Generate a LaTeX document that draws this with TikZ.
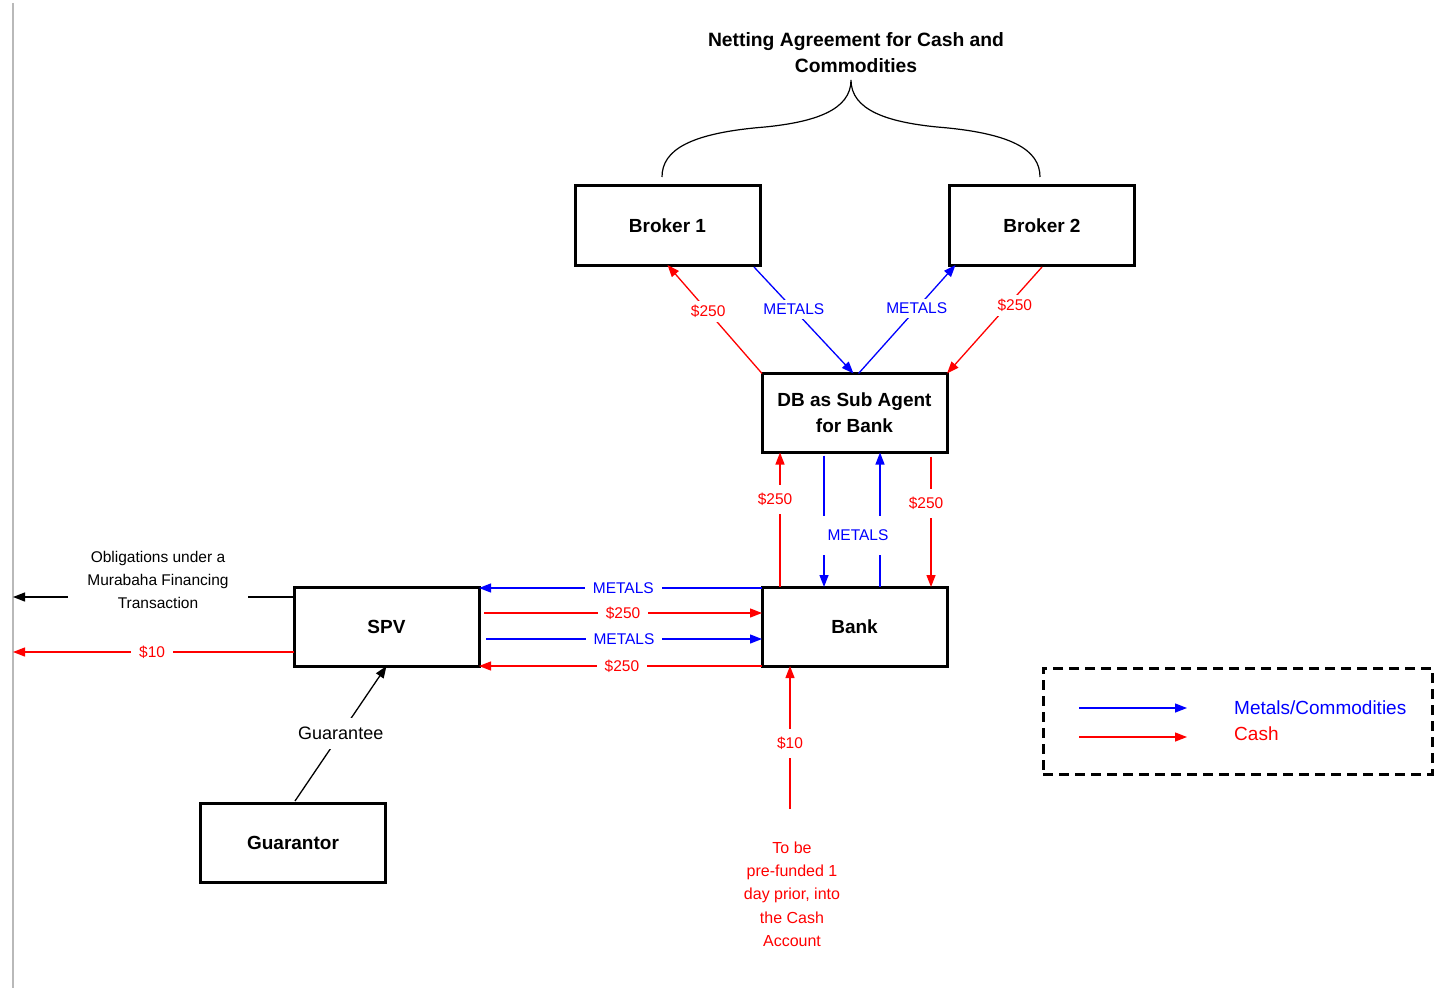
\documentclass[tikz,border=0pt]{standalone}
\usepackage{fontspec}
\setmainfont{Liberation Sans}
\usetikzlibrary{arrows.meta}
\definecolor{cashred}{RGB}{255,0,0}
\definecolor{metalblue}{RGB}{0,0,255}
\begin{document}
\begin{tikzpicture}[x=1pt,y=-1pt,
  party/.style={draw, line width=3pt, minimum width=185pt, minimum height=79pt,
    outer sep=0pt, inner sep=0pt, align=center,
    font=\fontsize{19}{26}\selectfont\bfseries},
  flow/.style={line width=1.3pt, -{Triangle[length=12pt,width=9pt]}},
  cash/.style={flow, color=cashred},
  metal/.style={flow, color=metalblue},
  lbl/.style={fill=white, inner xsep=8pt, inner ysep=4pt,
    font=\fontsize{15.5}{18}\selectfont},
  vlbl/.style={lbl, inner ysep=8pt},
  note/.style={align=center, inner sep=0pt}]
\useasboundingbox (0,0) rectangle (1439,992);

% left margin rule
\coordinate (ruletop) at (13,3);
\coordinate (rulebot) at (13,988);
\draw[gray!55, line width=1.5pt] (ruletop) -- (rulebot);

% parties
\node[party] (broker1) at (667.5,225.5) {Broker 1};
\node[party] (broker2) at (1042,225.5) {Broker 2};
\node[party] (db) at (854.5,413) {DB as Sub Agent\\for Bank};
\node[party] (bank) at (854.5,626.5) {Bank};
\node[party] (spv) at (386.5,626.5) {SPV};
\node[party] (guarantor) at (293,842.5) {Guarantor};

% netting agreement heading and brace
\node[note, font=\fontsize{19.3}{26}\selectfont\bfseries] (netting) at (856,53)
  {Netting Agreement for Cash and\\Commodities};
\coordinate (braceL) at (662,177);
\coordinate (braceTip) at (851,80);
\coordinate (braceR) at (1040,177);
\draw[line width=1.2pt] (braceL) .. controls (662,150) and (690,133) .. (765,127)
  .. controls (815,122) and (851,110) .. (braceTip)
  .. controls (851,110) and (887,122) .. (937,127)
  .. controls (1012,133) and (1040,150) .. (braceR);

% brokers <-> DB
\draw[cash] (db.north west) -- node[lbl, pos=0.57]{\$250} (broker1.south);
\draw[metal] ([xshift=-6pt,yshift=-2pt]broker1.south east) -- node[lbl, pos=0.4]{METALS} ([xshift=-1pt]db.north);
\draw[metal] ([xshift=4pt]db.north) -- node[lbl, pos=0.6]{METALS} ([xshift=6pt]broker2.south west);
\draw[cash] ([yshift=-2pt]broker2.south) -- node[lbl, pos=0.36, xshift=7pt]{\$250} (db.north east);

% DB <-> Bank
\draw[cash] ([xshift=18pt]bank.north west) -- node[vlbl, pos=0.65, xshift=-5pt]{\$250} ([xshift=18pt]db.south west);
\draw[metal] ([xshift=62pt,yshift=-3pt]db.south west) -- ([xshift=62pt]bank.north west);
\draw[metal] ([xshift=118pt]bank.north west) -- ([xshift=118pt]db.south west);
\draw[cash] ([xshift=169pt,yshift=-4pt]db.south west) -- node[vlbl, pos=0.36, xshift=-5pt]{\$250} ([xshift=169pt]bank.north west);
\node[fill=white, inner sep=0pt, minimum width=70pt, minimum height=39pt] (metalsgap) at (852,535.5) {};
\node[lbl, fill=none, text=metalblue] (metalsmid) at (858,535.5) {METALS};

% SPV <-> Bank
\draw[metal] ([yshift=-1pt]bank.north west) -- node[lbl, pos=0.49]{METALS} ([yshift=-1pt]spv.north east);
\draw[cash] ([xshift=5pt,yshift=-26pt]spv.north east) -- node[lbl, pos=0.5]{\$250} ([yshift=-26pt]bank.north west);
\draw[metal] ([xshift=7pt,yshift=-52pt]spv.north east) -- node[lbl, pos=0.5]{METALS} ([yshift=-52pt]bank.north west);
\draw[cash] (bank.south west) -- node[lbl, pos=0.495]{\$250} (spv.south east);

% SPV obligations outward
\coordinate (oblend) at (13,597);
\coordinate (tenend) at (13,652);
\draw[flow] ([yshift=-10pt]spv.north west) -- (oblend);
\node[lbl, minimum width=180pt, align=center, font=\fontsize{15.5}{23}\selectfont] (obligations) at (158,580)
  {Obligations under a\\Murabaha Financing\\Transaction};
\draw[cash] ([yshift=-65pt]spv.north west) -- node[lbl, pos=0.505]{\$10} (tenend);

% guarantee
\draw[flow] ([xshift=2pt,yshift=2pt]guarantor.north) -- node[lbl, inner ysep=9pt, font=\fontsize{18}{20}\selectfont]{Guarantee} (spv.south);

% pre-funding into Bank
\coordinate (prefund) at (790,809);
\draw[cash] (prefund) -- node[vlbl, pos=0.46]{\$10} ([xshift=28pt]bank.south west);
\node[note, text=cashred, font=\fontsize{16}{23.3}\selectfont] (prefundnote) at (792,894)
  {To be\\pre-funded 1\\day prior, into\\the Cash\\Account};

% legend
\node[draw, line width=3pt, dash pattern=on 10pt off 6pt, minimum width=389pt,
  minimum height=106pt, inner sep=0pt] (legend) at (1237.5,721) {};
\coordinate (legM1) at (1079,708);
\coordinate (legM2) at (1187,708);
\coordinate (legC1) at (1079,737);
\coordinate (legC2) at (1187,737);
\draw[metal] (legM1) -- (legM2);
\draw[cash] (legC1) -- (legC2);
\node[anchor=west, inner sep=0pt, text=metalblue, font=\fontsize{19}{22}\selectfont] (legmetals) at (1234,708) {Metals/Commodities};
\node[anchor=west, inner sep=0pt, text=cashred, font=\fontsize{19}{22}\selectfont] (legcash) at (1234,734) {Cash};
\end{tikzpicture}
\end{document}
